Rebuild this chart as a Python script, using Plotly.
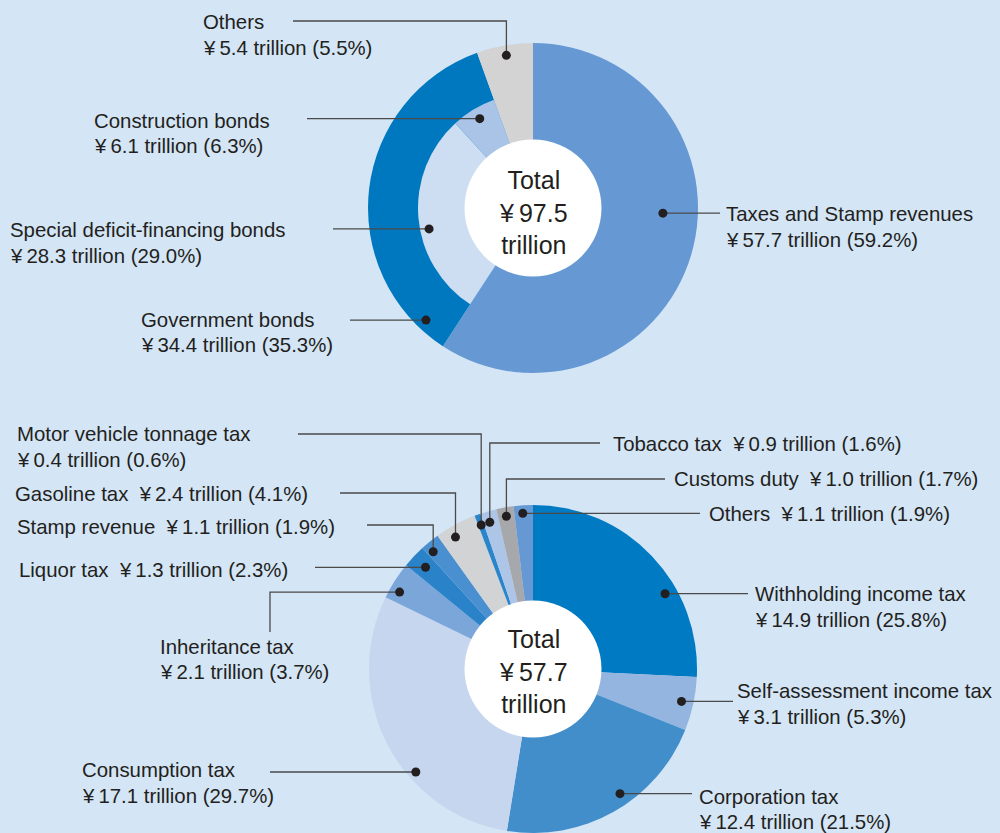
import math
import plotly.graph_objects as go

W, H = 1000, 833

# ---------------- data ----------------
rev_outer_labels = ["Taxes and Stamp revenues", "Government bonds", "Others"]
rev_outer_amounts = [57.7, 34.4, 5.4]
rev_outer_pct = [59.2, 35.3, 5.5]
bond_labels = ["Special deficit-financing bonds", "Construction bonds"]
bond_amounts = [28.3, 6.1]
bond_pct = [29.0, 6.3]
rev_total = 97.5

tax_labels = ["Withholding income tax", "Self-assessment income tax", "Corporation tax",
              "Consumption tax", "Inheritance tax", "Liquor tax", "Stamp revenue",
              "Gasoline tax", "Motor vehicle tonnage tax", "Tobacco tax", "Customs duty", "Others"]
tax_amounts = [14.9, 3.1, 12.4, 17.1, 2.1, 1.3, 1.1, 2.4, 0.4, 0.9, 1.0, 1.1]
tax_pct = [25.8, 5.3, 21.5, 29.7, 3.7, 2.3, 1.9, 4.1, 0.6, 1.6, 1.7, 1.9]
tax_total = 57.7

# ---------------- styles / layout ----------------
BG = "#d4e5f5"
TXT = "#231f20"
LINE = "#4a4a4a"
FONT = "Liberation Sans, Arial, Helvetica, sans-serif"
FS = 20.4

rev_outer_colors = ["#6699d3", "#0078bf", "#d3d3d3"]
bond_colors = ["#cddef2", "#a9c4e6"]
tax_colors = ["#007ac2", "#94b5e0", "#428ecb", "#c6d6ee", "#7aa6da", "#2a82c9",
              "#4a8fcf", "#d1d3d5", "#2a85cb", "#adc6e8", "#a6a8ab", "#6699d3"]

TOP_C = (533, 208); TOP_R = 165; TOP_MID = 115
BOT_C = (533, 669); BOT_R = 164
HOLE_R = 68.5


def domain(c, r):
    cx, cy = c
    return dict(x=[(cx - r) / W, (cx + r) / W], y=[(H - cy - r) / H, (H - cy + r) / H])


def yen(v):
    return "¥\u2009%.1f trillion" % v


fig = go.Figure()
# invisible cartesian trace so that pixel-mapped axes exist
fig.add_trace(go.Scatter(x=[], y=[], showlegend=False, hoverinfo="skip"))

fig.add_trace(go.Pie(values=rev_outer_pct, labels=rev_outer_labels, sort=False, direction="clockwise",
                     rotation=0, marker=dict(colors=rev_outer_colors, line=dict(width=0)),
                     textinfo="none", hoverinfo="none", showlegend=False, domain=domain(TOP_C, TOP_R)))
inner_vals = [rev_outer_pct[0]] + bond_pct + [rev_outer_pct[2]]
inner_cols = ["rgba(0,0,0,0)"] + bond_colors + ["rgba(0,0,0,0)"]
fig.add_trace(go.Pie(values=inner_vals, labels=["a", "b", "c", "d"], sort=False, direction="clockwise",
                     rotation=0, marker=dict(colors=inner_cols, line=dict(width=0)),
                     textinfo="none", hoverinfo="none", showlegend=False, domain=domain(TOP_C, TOP_MID)))
fig.add_trace(go.Pie(values=tax_pct, labels=tax_labels, sort=False, direction="clockwise",
                     rotation=0, marker=dict(colors=tax_colors, line=dict(width=0)),
                     textinfo="none", hoverinfo="none", showlegend=False, domain=domain(BOT_C, BOT_R)))

shapes = []
annotations = []

# white centre discs + totals
for c, tot, dy in [(TOP_C, rev_total, 4), (BOT_C, tax_total, 2)]:
    shapes.append(dict(type="circle", xref="x", yref="y", x0=c[0] - HOLE_R, x1=c[0] + HOLE_R,
                       y0=c[1] - HOLE_R, y1=c[1] + HOLE_R, fillcolor="white", line=dict(width=0),
                       layer="above"))
    annotations.append(dict(xref="x", yref="y", x=c[0], y=c[1] + dy, showarrow=False,
                            text="Total<br>¥\u2009%.1f<br>trillion" % tot, align="center",
                            font=dict(family=FONT, size=25, color=TXT)))


def dot_pos(c, vals, idx, frac, r):
    tot = sum(vals)
    start = sum(vals[:idx]) / tot
    a = (start + frac * vals[idx] / tot) * 2 * math.pi
    return c[0] + r * math.sin(a), c[1] - r * math.cos(a)


def add_callout(p, route, lines):
    x, y = p
    pts = [(x, y)]
    for kind, v in route:
        if kind == "h":
            x = v
        else:
            y = v
        pts.append((x, y))
    path = "M " + " L ".join("%.1f %.1f" % q for q in pts)
    shapes.append(dict(type="path", xref="x", yref="y", path=path,
                       line=dict(color=LINE, width=1.3), layer="above"))
    shapes.append(dict(type="circle", xref="x", yref="y", x0=p[0] - 4.5, x1=p[0] + 4.5,
                       y0=p[1] - 4.5, y1=p[1] + 4.5, fillcolor=TXT, line=dict(width=0), layer="above"))
    for (tx, ty, t) in lines:
        annotations.append(dict(xref="x", yref="y", x=tx, y=ty, text=t, showarrow=False,
                                xanchor="left", yanchor="middle", xshift=-2,
                                font=dict(family=FONT, size=FS, color=TXT)))


# ---- top chart callouts ----
# Taxes
add_callout(dot_pos(TOP_C, rev_outer_pct, 0, 0.433, 130), [("h", 720)],
            [(726, 214, rev_outer_labels[0]), (726, 240, yen(rev_outer_amounts[0]) + " (%.1f%%)" % rev_outer_pct[0])])
# Government bonds
add_callout(dot_pos(TOP_C, rev_outer_pct, 1, 0.083, 155), [("h", 350)],
            [(141, 320, rev_outer_labels[1]), (141, 345, yen(rev_outer_amounts[1]) + " (%.1f%%)" % rev_outer_pct[1])])
# Others
add_callout(dot_pos(TOP_C, rev_outer_pct, 2, 0.5, 155), [("v", 21), ("h", 293)],
            [(203, 22, rev_outer_labels[2]), (203, 48, yen(rev_outer_amounts[2]) + " (%.1f%%)" % rev_outer_pct[2])])
# Special deficit
add_callout(dot_pos(TOP_C, inner_vals, 1, 0.436, 106), [("h", 333)],
            [(10, 230, bond_labels[0]), (10, 256, yen(bond_amounts[0]) + " (%.1f%%)" % bond_pct[0])])
# Construction bonds
add_callout(dot_pos(TOP_C, inner_vals, 2, 0.515, 104), [("h", 307)],
            [(94, 121, bond_labels[1]), (94, 146, yen(bond_amounts[1]) + " (%.1f%%)" % bond_pct[1])])


# ---- bottom chart callouts ----
def tl(i):
    return yen(tax_amounts[i]) + " (%.1f%%)" % tax_pct[i]


def one(i):
    return tax_labels[i] + "  " + tl(i)


bot_cfg = [
    # idx, frac, r, route, lines
    (0, 0.65, 152, [("h", 748)], [(755, 594, tax_labels[0]), (755, 620, tl(0))]),
    (1, 0.5, 152, [("h", 733)], [(737, 691, tax_labels[1]), (737, 717, tl(1))]),
    (2, 0.43, 152, [("h", 692)], [(699, 797, tax_labels[2]), (699, 822, tl(2))]),
    (3, 0.37, 156, [("h", 270)], [(82, 770, tax_labels[3]), (82, 796, tl(3))]),
    (4, 0.3, 154, [("h", 270), ("v", 632)], [(160, 647, tax_labels[4]), (160, 672, tl(4))]),
    (5, 0.5, 148, [("h", 315)], [(19, 570, one(5))]),
    (6, 0.3, 154, [("v", 525), ("h", 367)], [(17, 527, one(6))]),
    (7, 0.35, 153, [("v", 493), ("h", 340)], [(15, 494, one(7))]),
    (8, 0.5, 153, [("v", 434), ("h", 298)], [(17, 434, tax_labels[8]), (17, 460, tl(8))]),
    (9, 0.4, 153, [("v", 443), ("h", 600)], [(613, 444, one(9))]),
    (10, 0.5, 155, [("v", 479), ("h", 665)], [(674, 479, one(10))]),
    (11, 0.45, 156, [("h", 700)], [(709, 514, one(11))]),
]
for idx, frac, r, route, lines in bot_cfg:
    add_callout(dot_pos(BOT_C, tax_pct, idx, frac, r), route, lines)

fig.update_layout(
    width=W, height=H, margin=dict(l=0, r=0, t=0, b=0),
    paper_bgcolor=BG, plot_bgcolor="rgba(0,0,0,0)",
    xaxis=dict(range=[0, W], visible=False, fixedrange=True, domain=[0, 1]),
    yaxis=dict(range=[H, 0], visible=False, fixedrange=True, domain=[0, 1]),
    shapes=shapes, annotations=annotations, showlegend=False,
)

fig.write_html("out.html", config={"displayModeBar": False})
